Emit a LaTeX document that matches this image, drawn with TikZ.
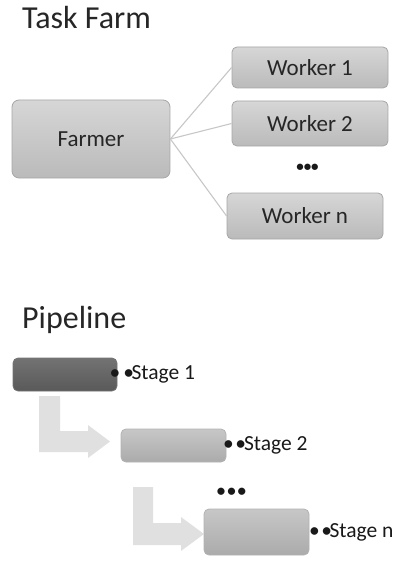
\documentclass[tikz,border=0pt]{standalone}
\usepackage{fontspec}
\setmainfont{Carlito}
\begin{document}
\begin{tikzpicture}[x=1pt,y=-1pt,
  title/.style={anchor=base west,inner sep=0pt,font=\fontsize{32}{32}\selectfont,text=black!85},
  greybox/.style={draw=black!35,line width=0.8pt,rounded corners=5pt,
    top color=black!16,bottom color=black!27,inner sep=0pt,
    font=\fontsize{23}{23}\selectfont,text=black!85},
  darkbox/.style={draw=black!55,line width=0.8pt,rounded corners=5pt,
    top color=black!55,bottom color=black!65,inner sep=0pt},
  midbox/.style={draw=black!30,line width=0.8pt,rounded corners=5pt,
    top color=black!22,bottom color=black!33,inner sep=0pt},
  link/.style={draw=black!22,line width=1.1pt},
  stagelabel/.style={anchor=west,inner sep=0pt,font=\fontsize{21.5}{21.5}\selectfont,text=black!90},
  dots/.style={inner sep=0pt,font=\fontsize{17}{17}\selectfont\bfseries,text=black!90},
  bentarrow/.style={fill=black!12,draw=none}]
\useasboundingbox (0,0) rectangle (401,567);

% Task farm
\node[title] (tftitle) at (22,29) {Task Farm};
\node[greybox,rounded corners=7pt,minimum width=158pt,minimum height=78pt] (farmer) at (91,139) {Farmer};
\node[greybox,minimum width=156pt,minimum height=41pt] (w1) at (310,67.5) {Worker 1};
\node[greybox,minimum width=156pt,minimum height=45pt] (w2) at (310,123.5) {Worker 2};
\node[dots,font=\fontsize{15}{15}\selectfont\bfseries] (wdots) at (307.5,168) {•••};
\node[greybox,minimum width=156pt,minimum height=46pt] (wn) at (305,216) {Worker n};
\draw[link] (farmer.east) -- (w1.west);
\draw[link] (farmer.east) -- (w2.west);
\draw[link] (farmer.east) -- (wn.west);

% Pipeline
\node[title] (pltitle) at (22,328) {Pipeline};
\fill[bentarrow] (39,396) -- (60,396) -- (60,431) -- (88,431) -- (88,425) -- (110,441.5)
  -- (88,458) -- (88,452) -- (39,452) -- cycle;
\fill[bentarrow] (133,487) -- (153,487) -- (153,523) -- (181,523) -- (181,517) -- (204,534)
  -- (181,551) -- (181,545) -- (133,545) -- cycle;
\node[darkbox,minimum width=104pt,minimum height=33pt] (s1) at (65,374.5) {};
\node[midbox,minimum width=105pt,minimum height=33pt] (s2) at (173.5,445.5) {};
\node[dots] (sdots) at (231.5,492) {•\kern2pt•\kern2pt•};
\node[midbox,minimum width=105pt,minimum height=46pt] (sn) at (256.5,532) {};
\node[stagelabel] (l1) at ([xshift=-8pt]s1.east) {•\kern3pt•\kern-2.5pt Stage 1};
\node[stagelabel] (l2) at ([xshift=-3.5pt]s2.east) {•\kern1.5pt•\kern-2pt Stage 2};
\node[stagelabel] (ln) at ([xshift=-0.5pt]sn.east) {•\kern1.5pt•\kern-2.5pt Stage n};
\end{tikzpicture}
\end{document}
